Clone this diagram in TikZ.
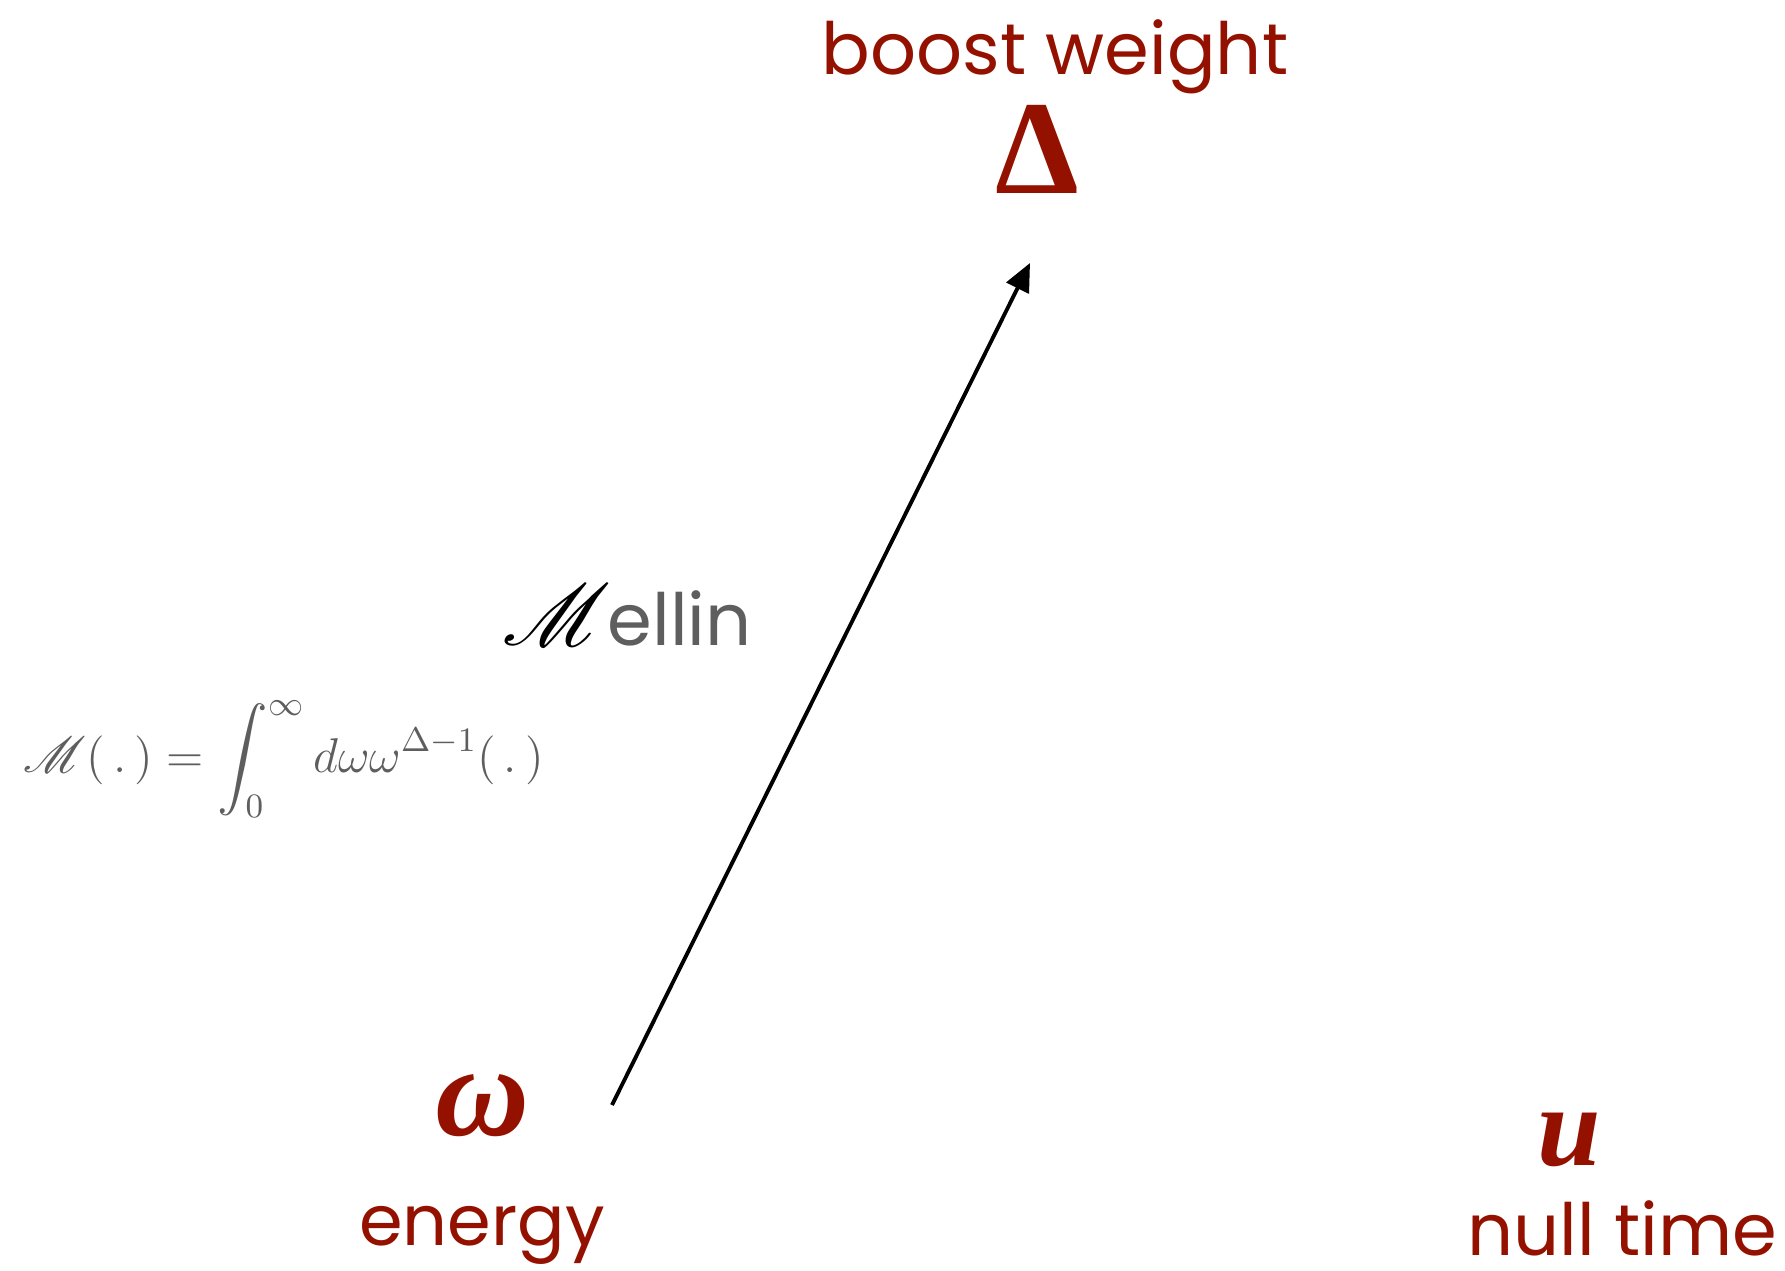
\RequirePackage{fix-cm}
\documentclass[tikz,border=0pt]{standalone}
\usepackage{exscale}
\usepackage{mathrsfs}
\usepackage{fontspec}
\setmainfont{Poppins}
\newfontfamily\timesgr{Liberation Serif}
\usetikzlibrary{arrows.meta}
\definecolor{cayenne}{HTML}{941100}
\definecolor{slate}{HTML}{5E5E5E}

\begin{document}
\begin{tikzpicture}[x=1cm,y=1cm,
  word/.style={text=cayenne, inner sep=0pt, anchor=base},
  greyword/.style={text=slate, inner sep=0pt, anchor=base west}]
\useasboundingbox (0,0) rectangle (17.85,12.70);
% the three variables
\node[word, font=\fontsize{20.5}{24}\selectfont] (boost) at (10.55,11.95) {boost weight};
\node[word, font=\fontsize{38}{42}\selectfont\timesgr\bfseries] (Delta) at (10.37,10.76) {Δ};
\node[word, font=\fontsize{37}{42}\selectfont\timesgr\bfseries\itshape] (omega) at (4.83,1.35) {ω};
\node[word, font=\fontsize{20}{24}\selectfont] (energy) at (4.82,0.25) {energy};
\node[word, font=\fontsize{32.5}{38}\selectfont\timesgr\bfseries\itshape] (u) at (15.69,1.05) {u};
\node[word, font=\fontsize{20.5}{24}\selectfont] (nulltime) at (16.22,0.15) {null time};
% Mellin map
\node[inner sep=0pt, anchor=base west, font=\fontsize{31}{34}\selectfont] (mscr) at (5.02,6.24) {$\mathscr{M}$};
\node[greyword, font=\fontsize{20.5}{24}\selectfont] (ellin) at (6.07,6.24) {ellin};
\node[greyword, font=\fontsize{13.9}{17}\selectfont] (formula) at (0.23,4.98)
  {$\displaystyle \mathscr{M}(\,.\,)=\int_0^\infty d\omega\omega^{\Delta-1}(\,.\,)$};
\coordinate (mstart) at (6.12,1.65);
\coordinate (mend) at (10.30,10.07);
\draw[line width=1.1pt, -{Triangle[length=8pt,width=7pt]}] (mstart) -- (mend);
\end{tikzpicture}
\end{document}
